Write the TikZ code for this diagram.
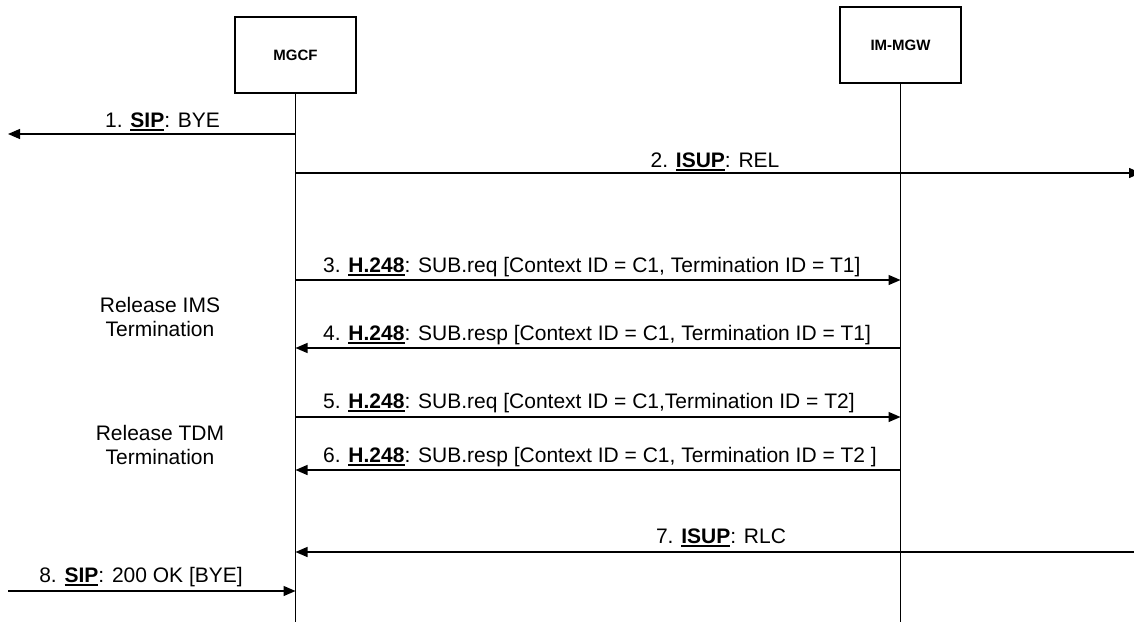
\documentclass[tikz,border=0pt]{standalone}
\usepackage{fontspec}
\setmainfont{Liberation Sans}
\usetikzlibrary{arrows.meta}
\newcommand{\ubf}[1]{\setbox0\hbox{\textbf{#1}}\rlap{\rule[-4pt]{\wd0}{1.8pt}}\box0}
\begin{document}
\begin{tikzpicture}[x=1pt,y=-1pt,
  ent/.style={draw, line width=1.6pt, minimum width=121pt, minimum height=76pt,
    font=\fontsize{15}{18}\selectfont\bfseries, inner sep=0},
  life/.style={line width=1.3pt},
  msg/.style={line width=1.3pt, -{Triangle[length=12pt,width=10pt]}},
  lbl/.style={font=\fontsize{21}{25}\selectfont, inner sep=0, anchor=base},
  lbll/.style={font=\fontsize{21}{25}\selectfont, inner sep=0, anchor=base west},
  side/.style={font=\fontsize{21}{24.5}\selectfont, inner sep=0, align=center}]
\useasboundingbox (0,0) rectangle (1134,621);
\clip (0,0) rectangle (1134,621);
% entities
\node[ent] (mgcf) at (295.5,55) {MGCF};
\node[ent] (mgw) at (900.5,45) {IM-MGW};
\coordinate (mgcfEnd) at (mgcf.south |- 0,625);
\coordinate (mgwEnd) at (mgw.south |- 0,625);
\draw[life] (mgcf.south) -- (mgcfEnd);
\draw[life] (mgw.south) -- (mgwEnd);
% coordinates on lifelines
\coordinate (c1) at (mgcf.south |- 0,134);
\coordinate (l1) at (8,134);
\coordinate (c2) at (mgcf.south |- 0,173);
\coordinate (r2) at (1141,173);
\coordinate (c3) at (mgcf.south |- 0,280);
\coordinate (g3) at (mgw.south |- 0,280);
\coordinate (c4) at (mgcf.south |- 0,348);
\coordinate (g4) at (mgw.south |- 0,348);
\coordinate (c5) at (mgcf.south |- 0,417);
\coordinate (g5) at (mgw.south |- 0,417);
\coordinate (c6) at (mgcf.south |- 0,470);
\coordinate (g6) at (mgw.south |- 0,470);
\coordinate (c7) at (mgcf.south |- 0,552);
\coordinate (r7) at (1140,552);
\coordinate (c8) at (mgcf.south |- 0,591);
\coordinate (l8) at (8,591);
% messages
\draw[msg] (c1) -- (l1);
\draw[msg] (c2) -- (r2);
\draw[msg] (c3) -- (g3);
\draw[msg] (g4) -- (c4);
\draw[msg] (c5) -- (g5);
\draw[msg] (g6) -- (c6);
\draw[msg] (r7) -- (c7);
\draw[msg] (l8) -- (c8);
% labels
\node[lbl] (t1) at (162.5,127) {1. \ubf{SIP}: BYE};
\node[lbl] (t2) at (715,167) {2. \ubf{ISUP}: REL};
\node[lbll] (t3) at (323,272) {3. \ubf{H.248}: SUB.req [Context ID = C1, Termination ID = T1]};
\node[lbll] (t4) at (323,340) {4. \ubf{H.248}: SUB.resp [Context ID = C1, Termination ID = T1]};
\node[lbll] (t5) at (323,408) {5. \ubf{H.248}: SUB.req [Context ID = C1,Termination ID = T2]};
\node[lbll] (t6) at (323,462) {6. \ubf{H.248}: SUB.resp [Context ID = C1, Termination ID = T2 ]};
\node[lbl] (t7) at (721,543) {7. \ubf{ISUP}: RLC};
\node[lbl] (t8) at (141,582) {8. \ubf{SIP}: 200 OK [BYE]};
\node[side] (s1) at (160,317) {Release IMS\\Termination};
\node[side] (s2) at (160,445) {Release TDM\\Termination};
\end{tikzpicture}
\end{document}
